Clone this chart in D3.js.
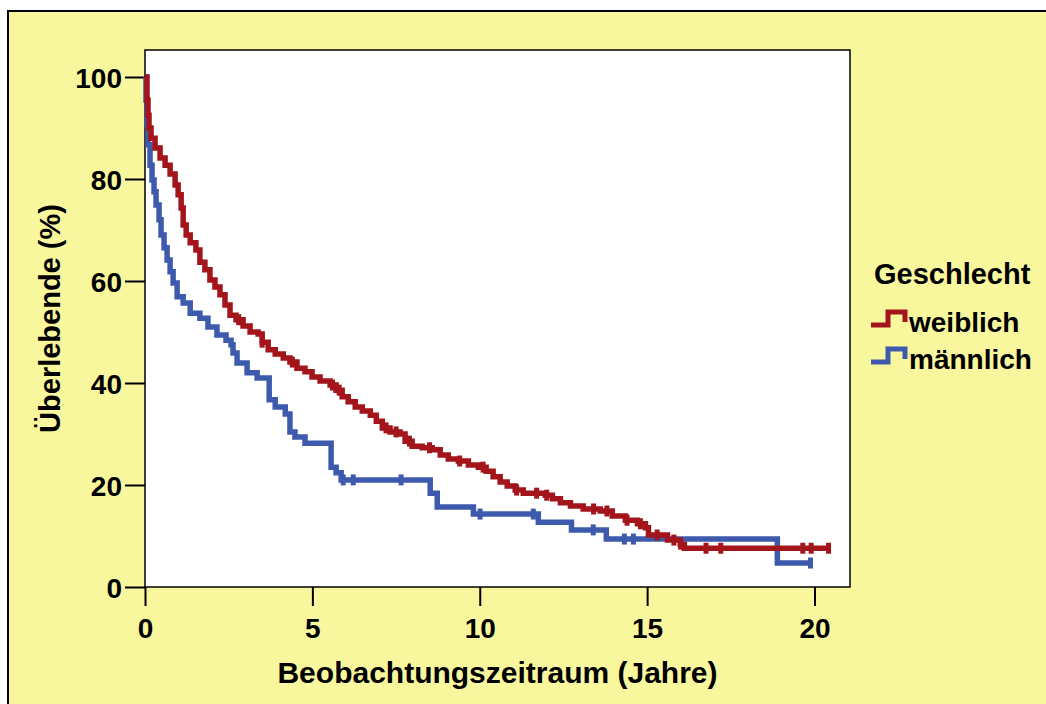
<!DOCTYPE html>
<html>
<head>
<meta charset="utf-8">
<script src="https://cdn.jsdelivr.net/npm/d3@7"></script>
<style>
  body { margin: 0; background: #fff; }
  svg text { font-family: "Liberation Sans", Arial, sans-serif; font-weight: bold; fill: #000; }
</style>
</head>
<body>
<div id="chart"></div>
<script>
// Kaplan-Meier: Überlebende (%) nach Geschlecht
const xTicks = [0, 5, 10, 15, 20];
const yTicks = [0, 20, 40, 60, 80, 100];

const weiblichZeit = [0, 0.06, 0.09, 0.12, 0.18, 0.30, 0.45, 0.60, 0.75, 0.90, 0.99, 1.08, 1.14, 1.23, 1.35, 1.52,
  1.64, 1.79, 1.94, 2.09, 2.24, 2.39, 2.54, 2.72, 2.93, 3.14, 3.38, 3.50, 3.68, 3.89, 4.13, 4.33, 4.54, 4.78,
  4.99, 5.23, 5.53, 5.71, 5.89, 6.07, 6.28, 6.49, 6.73, 6.91, 7.09, 7.32, 7.62, 7.77, 7.98, 8.28, 8.58, 8.82,
  9.06, 9.36, 9.66, 9.96, 10.19, 10.40, 10.61, 10.82, 11.06, 11.30, 11.96, 12.17, 12.41, 12.71, 13.09, 13.60,
  13.96, 14.35, 14.71, 14.95, 15.04, 15.61, 15.99, 16.11, 20.48];
const weiblichUeberleben = [100, 95.5, 92.5, 90.0, 88.0, 86.1, 84.1, 82.7, 81.0, 78.8, 76.9, 74.3, 71.0, 69.0, 67.5, 66.1,
  63.7, 62.2, 60.2, 58.8, 57.3, 55.3, 53.3, 52.4, 51.2, 50.0, 49.6, 48.0, 46.5, 45.7, 44.9, 44.1, 42.9, 42.2,
  41.2, 40.4, 39.6, 38.6, 37.3, 36.3, 35.3, 34.5, 33.7, 32.5, 31.2, 30.4, 30.0, 28.6, 27.6, 27.3, 26.9, 25.9,
  25.1, 24.7, 23.9, 23.5, 22.7, 21.6, 20.6, 19.8, 19.0, 18.4, 18.0, 17.3, 16.5, 15.9, 15.3, 14.9,
  13.9, 13.1, 12.4, 11.6, 10.2, 9.2, 8.4, 7.6, 7.6];
const weiblichZensiert = [2.8, 3.5, 4.4, 5.6, 5.8, 7.2, 7.5, 7.9, 8.5, 9.4, 10.1, 11.1, 11.7, 12.0, 13.4, 13.8,
  14.4, 14.8, 15.3, 15.8, 16.0, 16.76, 17.2, 19.65, 19.9, 20.42];

const maennlichZeit = [0, 0.03, 0.06, 0.09, 0.15, 0.21, 0.27, 0.33, 0.42, 0.48, 0.57, 0.66, 0.75, 0.84, 0.96, 1.14,
  1.35, 1.64, 1.88, 2.15, 2.42, 2.57, 2.63, 2.75, 3.05, 3.35, 3.71, 3.89, 4.19, 4.33, 4.48, 4.78, 5.56, 5.71,
  5.86, 8.52, 8.73, 9.81, 11.75, 12.74, 13.78, 18.89, 19.94];
const maennlichUeberleben = [100, 95.5, 90.6, 86.7, 82.7, 79.8, 77.5, 74.9, 72.0, 69.0, 66.5, 64.1, 61.8, 59.6, 56.9, 55.7,
  53.7, 52.7, 51.0, 49.4, 48.4, 47.5, 45.9, 43.9, 42.0, 41.0, 36.7, 35.3, 33.9, 30.4, 29.4, 28.2, 23.5, 22.4,
  21.0, 18.4, 15.7, 14.3, 12.7, 11.2, 9.4, 4.7, 4.7];
const maennlichZensiert = [5.92, 6.22, 7.65, 10.01, 11.6, 13.39, 14.32, 14.59, 19.88];

const gruppen = ['weiblich', 'männlich'];
const farben = ['#a3151b', '#3d5aad'];

const series = [
  { name: 'männlich', zeit: maennlichZeit, wert: maennlichUeberleben, zensiert: maennlichZensiert, color: farben[1] },
  { name: 'weiblich', zeit: weiblichZeit, wert: weiblichUeberleben, zensiert: weiblichZensiert, color: farben[0] }
];

const width = 1046, height = 704;
const plot = { left: 145, right: 850, top: 50, bottom: 587 };

const svg = d3.select('#chart').append('svg')
  .attr('width', width)
  .attr('height', height);

// background panel
svg.append('rect')
  .attr('x', 8).attr('y', 11)
  .attr('width', 1060).attr('height', 720)
  .attr('fill', '#f9f79e')
  .attr('stroke', '#000')
  .attr('stroke-width', 2);

svg.append('rect')
  .attr('x', plot.left).attr('y', plot.top)
  .attr('width', plot.right - plot.left).attr('height', plot.bottom - plot.top)
  .attr('fill', '#fff')
  .attr('stroke', '#000')
  .attr('stroke-width', 1.5);

const x = d3.scaleLinear().domain([0, 20]).range([plot.left, 814.5]);
const y = d3.scaleLinear().domain([0, 100]).range([plot.bottom, 77]);

const xAxis = d3.axisBottom(x).tickValues(xTicks).tickSize(19).tickPadding(6);
const yAxis = d3.axisLeft(y).tickValues(yTicks).tickSize(20).tickPadding(3);

const gx = svg.append('g')
  .attr('transform', `translate(0, ${plot.bottom})`)
  .call(xAxis);
const gy = svg.append('g')
  .attr('transform', `translate(${plot.left}, 0)`)
  .call(yAxis);

svg.selectAll('path.domain').remove();
svg.selectAll('.tick line').attr('stroke', '#000').attr('stroke-width', 2);
svg.selectAll('.tick text').attr('font-size', 28).style('font-weight', 'bold').attr('fill', '#000');
gx.selectAll('.tick text').attr('dy', '0.92em');
gy.selectAll('.tick text').attr('dy', '0.36em');

const line = d3.line()
  .x(d => x(d[0]))
  .y(d => y(d[1]))
  .curve(d3.curveStepAfter);

function survivalAt(s, t) {
  let v = s.wert[0];
  for (let i = 0; i < s.zeit.length; i++) {
    if (s.zeit[i] <= t) v = s.wert[i];
  }
  return v;
}

series.forEach(s => {
  const pts = s.zeit.map((t, i) => [t, s.wert[i]]);
  svg.append('path')
    .datum(pts)
    .attr('fill', 'none')
    .attr('stroke', s.color)
    .attr('stroke-width', 5.5)
    .attr('stroke-linejoin', 'miter')
    .attr('d', line);

  svg.selectAll(null)
    .data(s.zensiert)
    .join('line')
      .attr('x1', d => x(d))
      .attr('x2', d => x(d))
      .attr('y1', d => y(survivalAt(s, d)) - 5.5)
      .attr('y2', d => y(survivalAt(s, d)) + 5.5)
      .attr('stroke', s.color)
      .attr('stroke-width', 5);
});

// axis titles
svg.append('text')
  .attr('x', (plot.left + plot.right) / 2)
  .attr('y', 683)
  .attr('text-anchor', 'middle')
  .attr('font-size', 30)
  .text('Beobachtungszeitraum (Jahre)');

svg.append('text')
  .attr('transform', `translate(60, ${(plot.top + plot.bottom) / 2}) rotate(-90)`)
  .attr('text-anchor', 'middle')
  .attr('font-size', 29)
  .text('Überlebende (%)');

// legend
const legend = svg.append('g');
legend.append('text')
  .attr('x', 874).attr('y', 284)
  .attr('font-size', 29)
  .text('Geschlecht');

gruppen.forEach((g, i) => {
  const base = 325 + i * 37;
  legend.append('path')
    .attr('d', `M871,${base} H888 V${base - 13} H905 V${base - 3}`)
    .attr('fill', 'none')
    .attr('stroke', farben[i])
    .attr('stroke-width', 5);
  legend.append('text')
    .attr('x', 909).attr('y', base + 7)
    .attr('font-size', 28)
    .text(g);
});
</script>
</body>
</html>
